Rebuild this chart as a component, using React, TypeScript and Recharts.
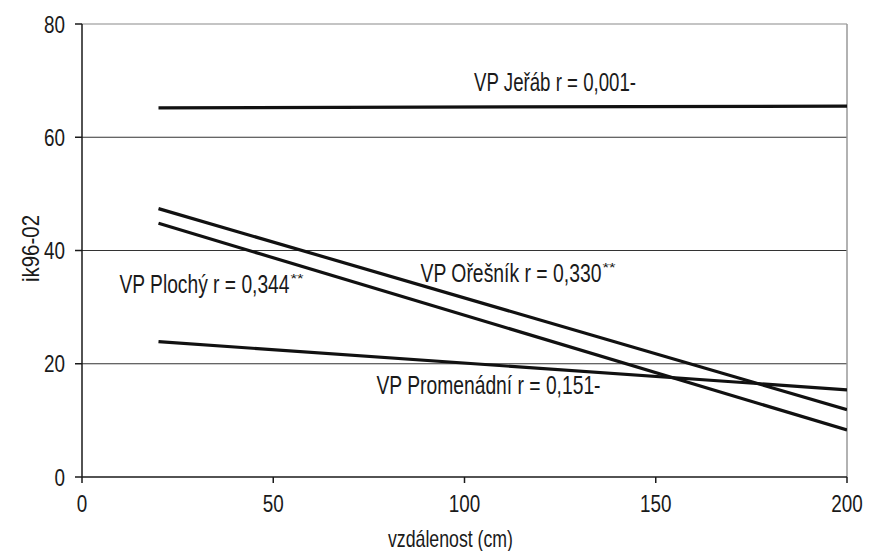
import {
  LineChart,
  Line,
  XAxis,
  YAxis,
  ReferenceLine,
  ReferenceDot,
  Label,
} from 'recharts';

// distance (cm) at the two ends of each fitted line
const distance = [20, 200];

// ik96-02 values at those distances
const jerab = [65.2, 65.5];
const oresnik = [47.4, 11.9];
const plochy = [44.8, 8.3];
const promenadni = [23.9, 15.4];

const xTicks = [0, 50, 100, 150, 200];
const yTicks = [0, 20, 40, 60, 80];
const gridValues = [20, 40, 60];

const notes = [
  { name: 'VP Jeřáb r = 0,001-', stars: '', x: 102.5, y: 69.7, w: 162 },
  { name: 'VP Ořešník r = 0,330', stars: '**', x: 88.5, y: 36.1, w: 181 },
  { name: 'VP Plochý r = 0,344', stars: '**', x: 9.8, y: 34, w: 170 },
  { name: 'VP Promenádní r = 0,151-', stars: '', x: 77, y: 16.3, w: 224 },
];

const FONT = '"Liberation Sans", Arial, sans-serif';
const INK = '#1a1a1a';
const DIGIT_W = 10.5;

const toSeries = (vals: number[]) => distance.map((x, i) => ({ x, y: vals[i] }));

// squeezed text, the original uses a very narrow bitmap-like face
function Narrow({ x, y, w, anchor = 'start', dy = 0, size = 25, children, rotate }: any) {
  return (
    <text
      x={x}
      y={y}
      dy={dy}
      textAnchor={anchor}
      fill={INK}
      fontSize={size}
      fontFamily={FONT}
      textLength={w}
      lengthAdjust='spacingAndGlyphs'
      transform={rotate ? `rotate(${rotate}, ${x}, ${y})` : undefined}
    >
      {children}
    </text>
  );
}

function AxisTick({ x, y, payload, textAnchor, verticalAnchor }: any) {
  const s = String(payload.value);
  const dy = verticalAnchor === 'start' ? '0.71em' : '0.355em';
  return (
    <Narrow x={x} y={y} dy={dy} anchor={textAnchor} w={s.length * DIGIT_W} size={24}>
      {s}
    </Narrow>
  );
}

function NoteLabel({ viewBox, text, stars, w }: any) {
  return (
    <text x={viewBox.x} y={viewBox.y} dy={9} fill={INK} fontSize={25} fontFamily={FONT}>
      <tspan textLength={w} lengthAdjust='spacingAndGlyphs'>
        {text}
      </tspan>
      {stars && (
        <tspan dx={1} dy={-10} fontSize={12} textLength={13} lengthAdjust='spacingAndGlyphs'>
          {stars}
        </tspan>
      )}
    </text>
  );
}

export default function App() {
  const series = [jerab, oresnik, plochy, promenadni];
  return (
    <div style={{ position: 'absolute', left: 0, top: 0, background: '#fff' }}>
      <LineChart
        width={869}
        height={551}
        margin={{ top: 24, right: 22, left: 22, bottom: 0 }}
      >
        <XAxis
          type='number'
          dataKey='x'
          domain={[0, 200]}
          ticks={xTicks}
          allowDataOverflow
          height={74}
          tickSize={6}
          tickMargin={12}
          stroke={INK}
          strokeWidth={1.5}
          tick={AxisTick}
        >
          <Label
            content={({ viewBox }: any) => (
              <Narrow x={viewBox.x + viewBox.width / 2 - 14} y={547} anchor='middle' w={125} size={24}>
                vzdálenost (cm)
              </Narrow>
            )}
          />
        </XAxis>
        <YAxis
          type='number'
          domain={[0, 80]}
          ticks={yTicks}
          width={60}
          tickSize={7}
          tickMargin={10}
          stroke={INK}
          strokeWidth={1.5}
          tick={AxisTick}
        >
          <Label
            content={({ viewBox }: any) => (
              <Narrow
                x={viewBox.x + 8}
                y={viewBox.y + viewBox.height / 2 - 2}
                anchor='middle'
                dy='0.36em'
                w={67}
                size={24}
                rotate={-90}
              >
                ik96-02
              </Narrow>
            )}
          />
        </YAxis>
        {gridValues.map((v) => (
          <ReferenceLine key={v} y={v} stroke='#333' strokeWidth={1.2} />
        ))}
        <ReferenceLine y={80} stroke='#b0b0b0' strokeWidth={1.5} />
        <ReferenceLine x={200} stroke='#999' strokeWidth={1.5} />
        {series.map((vals, i) => (
          <Line
            key={i}
            data={toSeries(vals)}
            dataKey='y'
            type='linear'
            stroke='#111'
            strokeWidth={3.2}
            dot={false}
            activeDot={false}
            isAnimationActive={false}
          />
        ))}
        {notes.map((n) => (
          <ReferenceDot
            key={n.name}
            x={n.x}
            y={n.y}
            r={0}
            fill='none'
            stroke='none'
            label={(p: any) => <NoteLabel {...p} text={n.name} stars={n.stars} w={n.w} />}
          />
        ))}
      </LineChart>
    </div>
  );
}
